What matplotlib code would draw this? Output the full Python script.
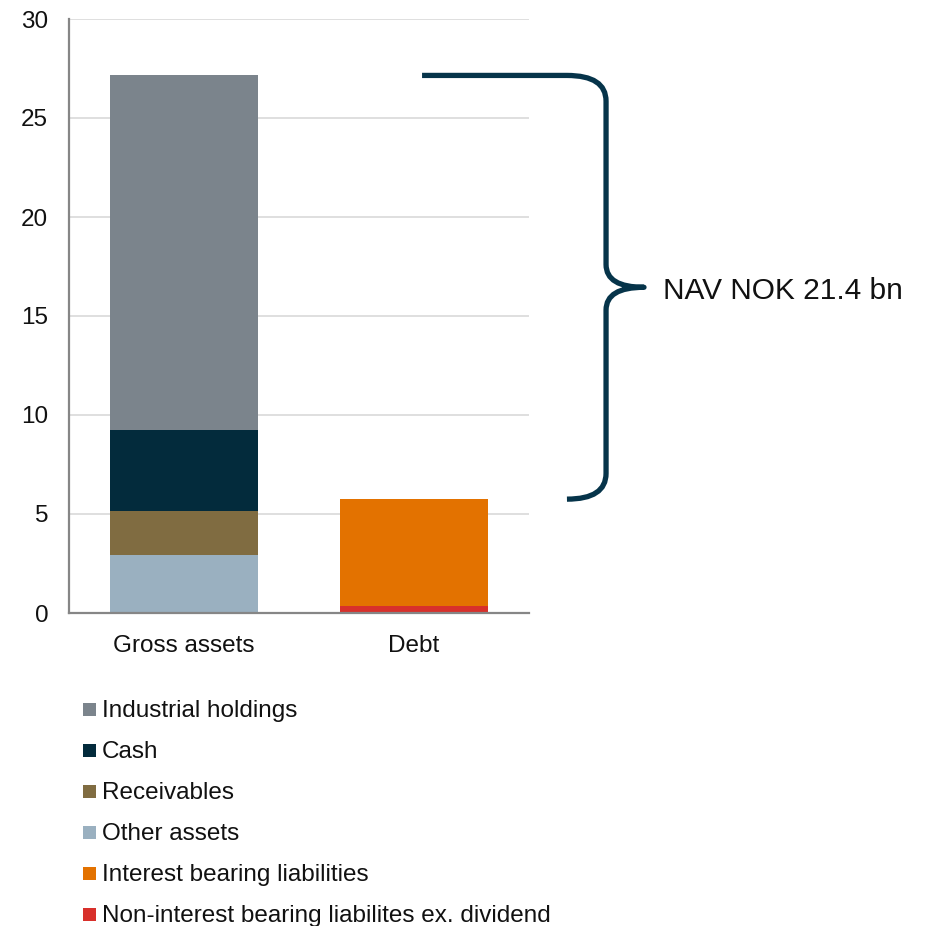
import matplotlib
matplotlib.use("Agg")
import matplotlib.pyplot as plt
from matplotlib.path import Path
from matplotlib.patches import PathPatch, Rectangle

plt.rcParams["font.family"] = ["Liberation Sans", "DejaVu Sans"]

# NOK bn
categories = ["Gross assets", "Debt"]
series_names = [
    "Other assets",
    "Receivables",
    "Cash",
    "Industrial holdings",
    "Non-interest bearing liabilites ex. dividend",
    "Interest bearing liabilities",
]
other_assets = [2.95, 0.0]
receivables = [2.2, 0.0]
cash = [4.1, 0.0]
industrial_holdings = [17.9, 0.0]
non_interest_liab = [0.0, 0.35]
interest_liab = [0.0, 5.4]
nav_label = "NAV NOK 21.4 bn"

colors = {
    "Industrial holdings": "#7b848c",
    "Cash": "#032b3c",
    "Receivables": "#806c41",
    "Other assets": "#9ab0c0",
    "Interest bearing liabilities": "#e37200",
    "Non-interest bearing liabilites ex. dividend": "#d8302b",
}
legend_order = [
    "Industrial holdings",
    "Cash",
    "Receivables",
    "Other assets",
    "Interest bearing liabilities",
    "Non-interest bearing liabilites ex. dividend",
]
brace_color = "#06344a"

W, H = 925, 926
fig = plt.figure(figsize=(W / 100, H / 100), dpi=100)
ax = fig.add_axes([69 / W, 1 - 613 / H, 460 / W, 594 / H])

x = list(range(len(categories)))
stack = [other_assets, receivables, cash, industrial_holdings,
         non_interest_liab, interest_liab]
bottom = [0.0] * len(categories)
for name, vals in zip(series_names, stack):
    ax.bar(x, vals, width=0.645, bottom=bottom, color=colors[name],
           label=name, zorder=3)
    bottom = [b + v for b, v in zip(bottom, vals)]

ax.set_xlim(-0.5, 1.5)
ax.set_ylim(0, 30)
ax.set_yticks(range(0, 31, 5))
ax.set_xticks(x)
ax.set_xticklabels(categories)
ax.tick_params(axis="both", length=0, labelsize=17.5, colors="#111111")
ax.tick_params(axis="y", pad=15)
ax.tick_params(axis="x", pad=15.5)
ax.yaxis.grid(True, color="#d9d9d9", linewidth=1.2, zorder=0)
ax.set_axisbelow(True)
for s in ("top", "right"):
    ax.spines[s].set_visible(False)
for s in ("left", "bottom"):
    ax.spines[s].set_color("#868686")
    ax.spines[s].set_linewidth(1.6)
    ax.spines[s].set_zorder(4)

# Curly brace spanning from the top of debt to the top of gross assets
gross_total = sum(v[0] for v in stack)
debt_total = sum(v[1] for v in stack)
y_top, y_bot = gross_total, debt_total
y_mid = (y_top + y_bot) / 2
x0, x1, xv, xt = 1.035, 1.665, 1.835, 2.0
ry, rt = 1.3, 1.15
verts = [
    (x0, y_top), (x1, y_top),
    (xv, y_top), (xv, y_top - ry),
    (xv, y_mid + rt),
    (xv, y_mid), (xt, y_mid),
    (xv, y_mid), (xv, y_mid - rt),
    (xv, y_bot + ry),
    (xv, y_bot), (x1, y_bot),
]
codes = [
    Path.MOVETO, Path.LINETO,
    Path.CURVE3, Path.CURVE3,
    Path.LINETO,
    Path.CURVE3, Path.CURVE3,
    Path.CURVE3, Path.CURVE3,
    Path.LINETO,
    Path.CURVE3, Path.CURVE3,
]
ax.add_patch(PathPatch(Path(verts, codes), facecolor="none",
                       edgecolor=brace_color, linewidth=3.8,
                       capstyle="butt", joinstyle="round", clip_on=False))
ax.text(2.083, y_mid - 0.2, nav_label, fontsize=21.5, color="#111111",
        ha="left", va="center", clip_on=False)

# Legend drawn as a vertical list below the chart
row_y0, row_step = 709, 41
for i, name in enumerate(legend_order):
    cy = row_y0 + i * row_step
    fig.patches.append(Rectangle((83 / W, 1 - (cy + 6.5) / H), 13 / W, 13 / H,
                                 transform=fig.transFigure,
                                 facecolor=colors[name], edgecolor="none"))
    fig.text(102 / W, 1 - (cy + 2) / H, name, fontsize=17.5, color="#111111",
             ha="left", va="center")

fig.savefig("out.png", dpi=100)
